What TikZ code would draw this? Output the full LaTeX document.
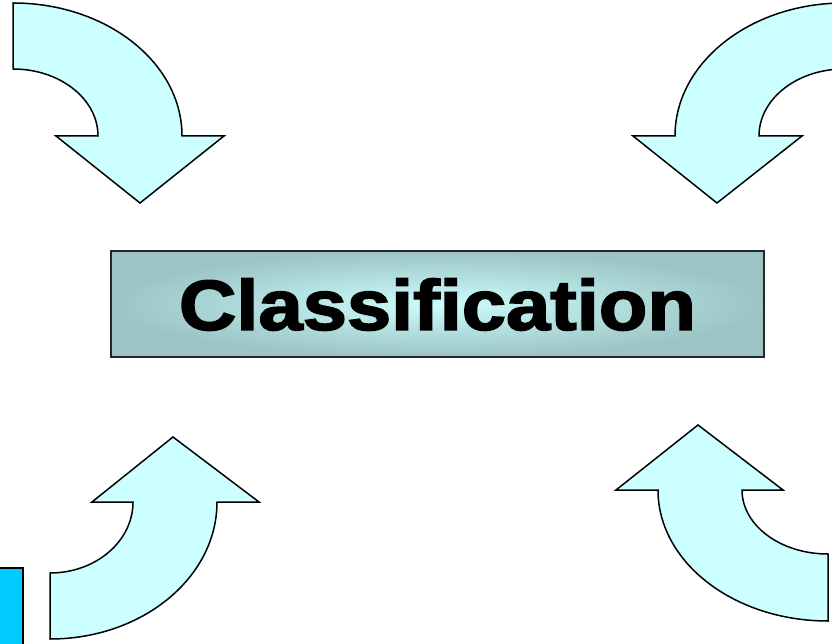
\documentclass[tikz,border=0pt]{standalone}
\usepackage{fontspec}
\setmainfont{Liberation Sans}
\newfontfamily\heavyfont[FakeBold=2.2]{Liberation Sans Bold}
\usepackage{graphicx}
\definecolor{arrowfill}{RGB}{204,255,255}
\definecolor{sidebar}{RGB}{0,204,255}
\definecolor{boxin}{RGB}{204,252,252}
\definecolor{boxout}{RGB}{156,196,196}
\begin{document}
\begin{tikzpicture}[x=1pt,y=1pt,
  bigarrow/.style={fill=arrowfill,draw=black,line width=1.5pt,line join=miter},
  titlebox/.style={draw=black!85,line width=1.4pt,inner color=boxin,outer color=boxout,
    minimum width=653pt,minimum height=106pt,inner sep=0pt},
  titletext/.style={font=\heavyfont\fontsize{71}{75}\selectfont}]
\useasboundingbox (0,0) rectangle (832,643);
\clip (0,0) rectangle (832,643);
% top-left arrow
\draw[bigarrow] (13,640) arc[start angle=90,end angle=0,x radius=169,y radius=133]
  -- (224,507) -- (140,440) -- (56,507) -- (98,507)
  arc[start angle=0,end angle=90,x radius=85,y radius=67] -- cycle;
% top-right arrow
\draw[bigarrow] (844,640) arc[start angle=90,end angle=180,x radius=169,y radius=133]
  -- (633,507) -- (717,440) -- (802,507) -- (759,507)
  arc[start angle=180,end angle=90,x radius=85,y radius=67] -- cycle;
% bottom-left arrow
\draw[bigarrow] (50,4) arc[start angle=-90,end angle=0,x radius=167,y radius=137]
  -- (259,141) -- (173,206) -- (92,141) -- (133,141)
  arc[start angle=0,end angle=-90,x radius=83,y radius=71] -- cycle;
% bottom-right arrow
\draw[bigarrow] (828,22) arc[start angle=-90,end angle=-180,x radius=170,y radius=131]
  -- (616,153) -- (698,218) -- (783,153) -- (742,153)
  arc[start angle=180,end angle=270,x radius=86,y radius=64] -- cycle;
% side bar
\draw[fill=sidebar,draw=black,line width=1.5pt] (-5,-5) rectangle (23,75);
% title box
\node[titlebox] (box) at (437.5,339) {};
\node[titletext] (title) at (437.5,338.5) {\scalebox{1.12}[1]{Classification}};
\end{tikzpicture}
\end{document}
